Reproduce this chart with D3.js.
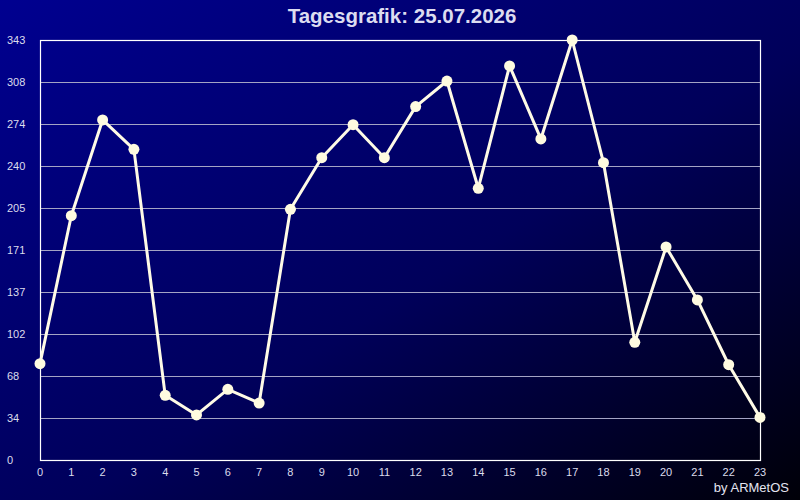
<!DOCTYPE html>
<html>
<head>
<meta charset="utf-8">
<script src="https://cdn.jsdelivr.net/npm/d3@7"></script>
<style>
  html, body { margin: 0; padding: 0; background: #000; }
  svg { display: block; }
</style>
</head>
<body>
<div id="chart"></div>
<script>
const title = "Tagesgrafik: 25.07.2026";
const credit = "by ARMetOS";
const hours = d3.range(0, 24);
const values = [78.7, 199.5, 277.7, 253.7, 52.8, 36.8, 57.7, 46.5, 204.7, 246.9, 273.8, 246.9,
    288.6, 309.5, 221.9, 321.8, 262.2, 343.0, 242.8, 96.1, 174.0, 130.7, 77.8, 34.8];
const yMax = 343;
const yTickCount = 10;

const width = 800, height = 500;
const margin = {top: 40, right: 40, bottom: 40, left: 40};

const svg = d3.select("#chart")
    .append("svg")
    .attr("width", width)
    .attr("height", height)
    .attr("font-family", "Liberation Sans, Arial, sans-serif");

const grad = svg.append("defs")
    .append("linearGradient")
    .attr("id", "bg")
    .attr("x1", "0%").attr("y1", "0%")
    .attr("x2", "100%").attr("y2", "100%");
grad.append("stop").attr("offset", "0%").attr("stop-color", "#000090");
grad.append("stop").attr("offset", "55%").attr("stop-color", "#00005a");
grad.append("stop").attr("offset", "100%").attr("stop-color", "#000008");

svg.append("rect")
    .attr("width", width)
    .attr("height", height)
    .attr("fill", "url(#bg)");

const x = d3.scaleLinear()
    .domain([0, 23])
    .range([margin.left, width - margin.right]);

const y = d3.scaleLinear()
    .domain([0, yMax])
    .range([height - margin.bottom, margin.top]);

const yTicks = d3.range(0, yTickCount + 1).map(i => yMax * i / yTickCount);

// gridlines
svg.append("g")
    .selectAll("line")
    .data(yTicks.slice(1, -1))
    .join("line")
    .attr("x1", x(0))
    .attr("x2", x(23))
    .attr("y1", d => Math.round(y(d)) + 0.5)
    .attr("y2", d => Math.round(y(d)) + 0.5)
    .attr("stroke", "#a4a4c4")
    .attr("stroke-width", 1);

// frame
svg.append("rect")
    .attr("x", x(0) + 0.5)
    .attr("y", y(yMax) + 0.5)
    .attr("width", x(23) - x(0))
    .attr("height", y(0) - y(yMax))
    .attr("fill", "none")
    .attr("stroke", "#ffffff")
    .attr("stroke-width", 1.2);

// y labels
svg.append("g")
    .selectAll("text")
    .data(yTicks)
    .join("text")
    .attr("x", 7)
    .attr("y", d => y(d) + 4)
    .attr("font-size", 11)
    .attr("fill", "#dcdcec")
    .text(d => Math.floor(d));

// x labels
svg.append("g")
    .selectAll("text")
    .data(hours)
    .join("text")
    .attr("x", d => x(d))
    .attr("y", 476)
    .attr("text-anchor", "middle")
    .attr("font-size", 11)
    .attr("fill", "#dcdcec")
    .text(d => d);

const line = d3.line()
    .x((d, i) => x(hours[i]))
    .y(d => y(d));

svg.append("path")
    .datum(values)
    .attr("d", line)
    .attr("fill", "none")
    .attr("stroke", "#fffbe6")
    .attr("stroke-width", 3)
    .attr("stroke-linejoin", "round");

svg.append("g")
    .selectAll("circle")
    .data(values)
    .join("circle")
    .attr("cx", (d, i) => x(hours[i]))
    .attr("cy", d => y(d))
    .attr("r", 5.5)
    .attr("fill", "#fffbe0");

svg.append("text")
    .attr("x", 402)
    .attr("y", 23)
    .attr("text-anchor", "middle")
    .attr("font-size", 20.5)
    .attr("font-weight", "bold")
    .attr("fill", "#dcdcf0")
    .text(title);

svg.append("text")
    .attr("x", 789)
    .attr("y", 492)
    .attr("text-anchor", "end")
    .attr("font-size", 13)
    .attr("fill", "#e4e4f0")
    .text(credit);
</script>
</body>
</html>
